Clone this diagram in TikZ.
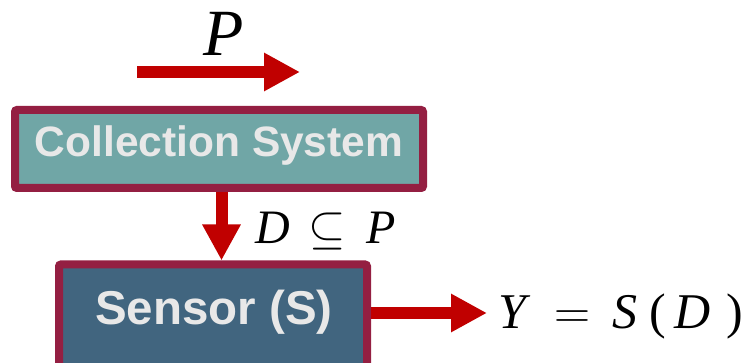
\RequirePackage{fix-cm}
\documentclass[tikz,border=0pt]{standalone}
\usepackage{fontspec}
\setsansfont{Liberation Sans}
\newfontfamily\tms{Liberation Serif}
\usetikzlibrary{arrows.meta}
\definecolor{arrred}{HTML}{C00000}
\definecolor{boxborder}{HTML}{941F42}
\definecolor{collfill}{HTML}{70A6A6}
\definecolor{sensfill}{HTML}{41657F}
\definecolor{boxtext}{HTML}{E8E8E8}
\begin{document}
\begin{tikzpicture}[x=1pt,y=-1pt,
  blockbox/.style={draw=boxborder, line width=8pt, rounded corners=2pt, inner sep=0pt,
    text=boxtext, font=\sffamily\bfseries},
  flow/.style={draw=arrred, line width=12pt, -{Triangle[width=36pt,length=36pt]}},
  mathlbl/.style={inner sep=0pt, text=black}]
\useasboundingbox (0,0) rectangle (747,363);
\clip (0,0) rectangle (747,363);
% boxes
\node[blockbox, fill=collfill, minimum width=408pt, minimum height=78pt,
  text height=30pt, text depth=14pt, font=\sffamily\bfseries\fontsize{42.5}{48}\selectfont]
  (coll) at (219,149) {Collection System};
\node[blockbox, fill=sensfill, minimum width=308pt, minimum height=160pt]
  (sensor) at (213,344.5) {};
\node[anchor=base, inner sep=0pt, text=boxtext, font=\sffamily\bfseries\fontsize{47.5}{54}\selectfont]
  (stext) at (214,324) {Sensor (S)};
% coordinates
\coordinate (pin0) at (137,72);
\coordinate (pin1) at (300,72);
\coordinate (xa) at (221.5,0);
\coordinate (yh) at (0,313);
\coordinate (yout) at (487,313);
% arrows
\draw[flow] (pin0) -- (pin1);
\draw[flow] (coll.south -| xa) -- (sensor.north -| xa);
\draw[flow] (sensor.east |- yh) -- (yout);
% labels
\node[mathlbl, anchor=base west, font=\fontsize{66}{72}\selectfont] (plbl) at (203,56) {\tms\itshape P};
\node[mathlbl, anchor=base west, font=\fontsize{48}{56}\selectfont] (dlbl) at (255,244)
  {{\tms\itshape D}\hspace{19pt}$\subseteq$\hspace{20pt}{\tms\itshape P}};
\node[mathlbl, anchor=base west, font=\fontsize{50}{58}\selectfont] (ylbl) at (498,328)
  {{\tms\itshape Y}\hspace{28pt}$=$\hspace{22pt}{\tms\itshape S}\hspace{12pt}{\tms(}\hspace{9pt}{\tms\itshape D}\hspace{16pt}{\tms)}};
\end{tikzpicture}
\end{document}
